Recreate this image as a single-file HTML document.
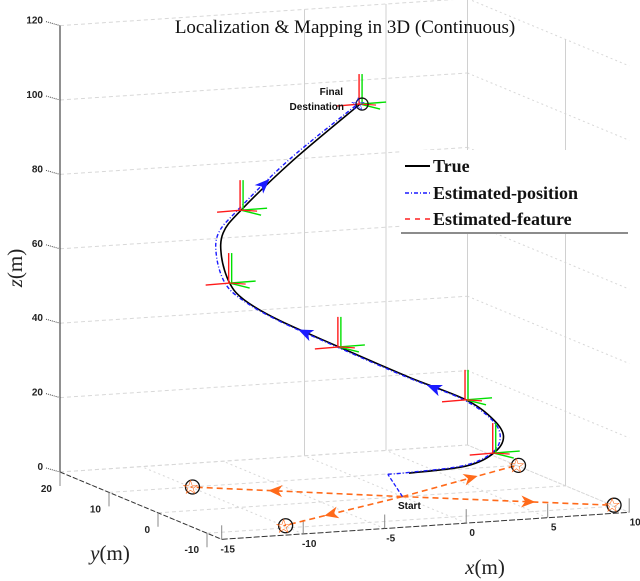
<!DOCTYPE html>
<html><head><meta charset="utf-8"><style>
html,body{margin:0;padding:0;background:#fff;}
svg{display:block;}
.tk{font-family:"Liberation Sans",sans-serif;font-size:10px;font-weight:bold;fill:#222;}
</style></head><body>
<svg id="chart" width="640" height="581" viewBox="0 0 640 581" xmlns="http://www.w3.org/2000/svg">
<g id="grid"></g>
<g id="axes"></g>
<g id="series"></g>
<text x="345" y="33" text-anchor="middle" font-family="Liberation Serif, serif" font-size="19" fill="#111">Localization &amp; Mapping in 3D (Continuous)</text>
<text x="343" y="95" text-anchor="end" font-family="Liberation Sans, sans-serif" font-size="10" font-weight="bold" fill="#111">Final</text>
<text x="344" y="110" text-anchor="end" font-family="Liberation Sans, sans-serif" font-size="10" font-weight="bold" fill="#111">Destination</text>
<text x="398" y="509" font-family="Liberation Sans, sans-serif" font-size="10" font-weight="bold" fill="#111">Start</text>
<text transform="translate(22,268) rotate(-90)" text-anchor="middle" font-family="Liberation Serif, serif" font-size="21" fill="#222"><tspan font-style="italic">z</tspan>(m)</text>
<text x="110" y="560" text-anchor="middle" font-family="Liberation Serif, serif" font-size="21" fill="#222"><tspan font-style="italic">y</tspan>(m)</text>
<text x="485" y="574" text-anchor="middle" font-family="Liberation Serif, serif" font-size="21" fill="#222"><tspan font-style="italic">x</tspan>(m)</text>
<g>
<rect x="400" y="150" width="240" height="84" fill="#fff"/>
<line x1="401" y1="233" x2="628" y2="233" stroke="#666" stroke-width="1.5"/>
<line x1="405" y1="166" x2="430" y2="166" stroke="#000" stroke-width="2"/>
<text x="433" y="172" font-family="Liberation Serif, serif" font-weight="bold" font-size="18" fill="#111">True</text>
<line x1="405" y1="193" x2="430" y2="193" stroke="#1a1aff" stroke-width="1.5" stroke-dasharray="4,2,1,2"/>
<text x="433" y="199" font-family="Liberation Serif, serif" font-weight="bold" font-size="18" fill="#111">Estimated-position</text>
<line x1="405" y1="219" x2="430" y2="219" stroke="#ff2020" stroke-width="1.5" stroke-dasharray="5,5"/>
<text x="433" y="225" font-family="Liberation Serif, serif" font-weight="bold" font-size="18" fill="#111">Estimated-feature</text>
</g>
</svg>
<script>
const xTicks=[-15,-10,-5,0,5,10];
const yTicks=[20,10,0,-10];
const zTicks=[0,20,40,60,80,100,120];
const trueX=[1.9,5.4,7.1,7.7,7.1,5.4,1.9,-2.4,-6.1,-8.2,-9.1,-9.6,-9.5,-8.4,-5.2,-1.1];
const trueZ=[3.0,3.9,6.9,11.1,15.8,21.7,28.8,38.2,46.5,52.5,57.3,64.5,70.9,76.7,89.2,103.1];
const estX=[0.6,1.9,5.3,7.0,7.5,7.0,5.2,1.7,-2.6,-6.3,-8.4,-9.4,-9.9,-9.8,-8.6,-5.4,-1.2];
const estZ=[3.1,3.2,4.1,7.0,11.1,15.8,21.9,29.0,38.4,46.8,52.8,57.5,64.5,70.8,76.8,89.6,103.3];
const pathY=5;
const startPt=[0,0,0];
const featX=[-10,-10,10,10];
const featY=[10,-9,10,-9.5];
const frameIdx=[15,13,10,7,5,2];
const ymin=-13,ymax=20,xmin=-15,xmax=10,zmax=120;
function PX(x,y,z){return 402.5+16.3*x-4.9*y;}
function PY(x,y,z){return 496.6-1.08*x-2.04*y-3.72*z;}
const NS="http://www.w3.org/2000/svg";
function mk(parent,tag,attrs){const e=document.createElementNS(NS,tag);for(const k in attrs)e.setAttribute(k,attrs[k]);parent.appendChild(e);return e;}
const grid=document.getElementById('grid'),axes=document.getElementById('axes'),ser=document.getElementById('series');
function seg(p,a,b,st,w,da){return mk(p,'line',{x1:PX(...a),y1:PY(...a),x2:PX(...b),y2:PY(...b),stroke:st,'stroke-width':w,'stroke-dasharray':da||'none'});}
zTicks.forEach(z=>{
 let l=seg(grid,[xmin,ymax,z],[xmax,ymax,z],'#d8d8d8',1,'4,3');
 
 
 let r=seg(grid,[xmax,ymax,z],[xmax,ymin,z],'#d8d8d8',1,'2,3');
 
 
});
[0,5,10].forEach(x=>{
 let l=seg(grid,[x,ymax,0],[x,ymax,zmax],'#d0d0d0',1);
 
 
});
[0].forEach(y=>{
 let l=seg(grid,[xmax,y,0],[xmax,y,zmax],'#d0d0d0',1);
 
 
});
xTicks.forEach(x=>{
 let l=seg(grid,[x,ymin,0],[x,ymax,0],'#d8d8d8',1,'2,3');
 
 
});
yTicks.forEach(y=>{
 let l=seg(grid,[xmin,y,0],[xmax,y,0],'#d8d8d8',1,'4,3');
 
 
});
let za=seg(axes,[xmin,ymax,0],[xmin,ymax,zmax],'#222',1);


let ya=seg(axes,[xmin,ymax,0],[xmin,ymin,0],'#333',1,'5,2');


let xa=seg(axes,[xmin,ymin,0],[xmax,ymin,0],'#333',1,'6,2');


zTicks.forEach(z=>{
 let x=PX(xmin,ymax,z),y=PY(xmin,ymax,z);
 mk(axes,'line',{x1:x-14,y1:y-4,x2:x,y2:y,stroke:'#444','stroke-dasharray':'1,1'});
 let t=mk(axes,'text',{x:x-17,y:y-2,'text-anchor':'end',class:'tk'});t.textContent=z;
 
 
});
xTicks.forEach(xv=>{
 let x=PX(xv,ymin,0),y=PY(xv,ymin,0);
 mk(axes,'line',{x1:x,y1:y,x2:x,y2:y-14,stroke:'#888'});
 let t=mk(axes,'text',{x:x+6,y:y+13,'text-anchor':'middle',class:'tk'});t.textContent=xv;
 
 
});
yTicks.forEach(yv=>{
 let x=PX(xmin,yv,0),y=PY(xmin,yv,0);
 mk(axes,'line',{x1:x,y1:y,x2:x,y2:y+14,stroke:'#888'});
 let t=mk(axes,'text',{x:x-8,y:y+20,'text-anchor':'end',class:'tk'});t.textContent=yv;
 
 
});
featX.forEach((fx,i)=>{
 const fy=featY[i];
 let l=seg(ser,startPt,[fx,fy,0],'#ff6a1a',1.6,'6,4');
 
 
 const x0=PX(...startPt),y0=PY(...startPt),x1=PX(fx,fy,0),y1=PY(fx,fy,0);
 const mx=(x0+x1)/2+(x1-x0)*0.1,my=(y0+y1)/2+(y1-y0)*0.1,a=Math.atan2(y1-y0,x1-x0)*180/Math.PI;
 let ar=mk(ser,'path',{d:'M7,0 L-7,-6 L-3,0 L-7,6 Z',fill:'#ff6a1a',transform:`translate(${mx},${my}) rotate(${a})`});
 
 
 let c=mk(ser,'circle',{cx:x1+2,cy:y1,r:7,fill:'none',stroke:'#111','stroke-width':1.3});
 
 
 let s=mk(ser,'text',{x:x1,y:y1+7,'text-anchor':'middle','font-size':20,fill:'#ff6a1a','font-family':'DejaVu Sans, sans-serif'});s.textContent='☆';
 
 
});
let sb=seg(ser,startPt,[estX[0],pathY,estZ[0]],'#1a1aff',1.3,'4,2');


function curve(xs,zs){
 const p=xs.map((x,i)=>[PX(x,pathY,zs[i]),PY(x,pathY,zs[i])]);
 let d=`M${p[0][0]},${p[0][1]}`;
 for(let i=0;i<p.length-1;i++){
  const p0=p[Math.max(0,i-1)],p1=p[i],p2=p[i+1],p3=p[Math.min(p.length-1,i+2)];
  const c1=[p1[0]+(p2[0]-p0[0])/6,p1[1]+(p2[1]-p0[1])/6],c2=[p2[0]-(p3[0]-p1[0])/6,p2[1]-(p3[1]-p1[1])/6];
  d+=` C${c1[0]},${c1[1]} ${c2[0]},${c2[1]} ${p2[0]},${p2[1]}`;
 }
 return d;
}
let tp=mk(ser,'path',{d:curve(trueX,trueZ),fill:'none',stroke:'#000','stroke-width':1.6,'stroke-linejoin':'round'});


let ep=mk(ser,'path',{d:curve(estX,estZ),fill:'none',stroke:'#1a1aff','stroke-width':1.4,'stroke-dasharray':'4,2,1,2','stroke-linejoin':'round'});


[14,8,6].forEach(i=>{
 const x0=PX(estX[i],pathY,estZ[i]),y0=PY(estX[i],pathY,estZ[i]),x1=PX(estX[i+1],pathY,estZ[i+1]),y1=PY(estX[i+1],pathY,estZ[i+1]);
 const a=Math.atan2(y1-y0,x1-x0)*180/Math.PI;
 let ar=mk(ser,'path',{d:'M8,0 L-7,-6 L-3,0 L-7,6 Z',fill:'#1a1aff',transform:`translate(${(x0+x1)/2},${(y0+y1)/2}) rotate(${a})`});
 
 
});
frameIdx.forEach(i=>{
 const x=PX(trueX[i],pathY,trueZ[i]),y=PY(trueX[i],pathY,trueZ[i]);
 const g=mk(ser,'g',{});
 
 
 mk(g,'line',{x1:x+2,y1:y,x2:x+2,y2:y-30,stroke:'#00e000','stroke-width':1.4});
 mk(g,'line',{x1:x,y1:y,x2:x+26,y2:y-2,stroke:'#00e000','stroke-width':1.4});
 mk(g,'line',{x1:x,y1:y,x2:x+20,y2:y+5,stroke:'#00e000','stroke-width':1.4});
 mk(g,'line',{x1:x-1,y1:y,x2:x-1,y2:y-30,stroke:'#ff1a1a','stroke-width':1.4});
 mk(g,'line',{x1:x,y1:y,x2:x-24,y2:y+2,stroke:'#ff1a1a','stroke-width':1.4});
 mk(g,'line',{x1:x,y1:y,x2:x+16,y2:y+1,stroke:'#ff1a1a','stroke-width':1.2});
});
const fx=PX(trueX[15],pathY,trueZ[15]),fy=PY(trueX[15],pathY,trueZ[15]);
let fc=mk(ser,'circle',{cx:fx+2,cy:fy,r:6,fill:'none',stroke:'#111','stroke-width':1.3});


let fs=mk(ser,'text',{x:fx-2,y:fy+6,'text-anchor':'middle','font-size':18,fill:'#1a1aff','font-family':'DejaVu Sans, sans-serif'});fs.textContent='☆';


</script>
</body></html>
